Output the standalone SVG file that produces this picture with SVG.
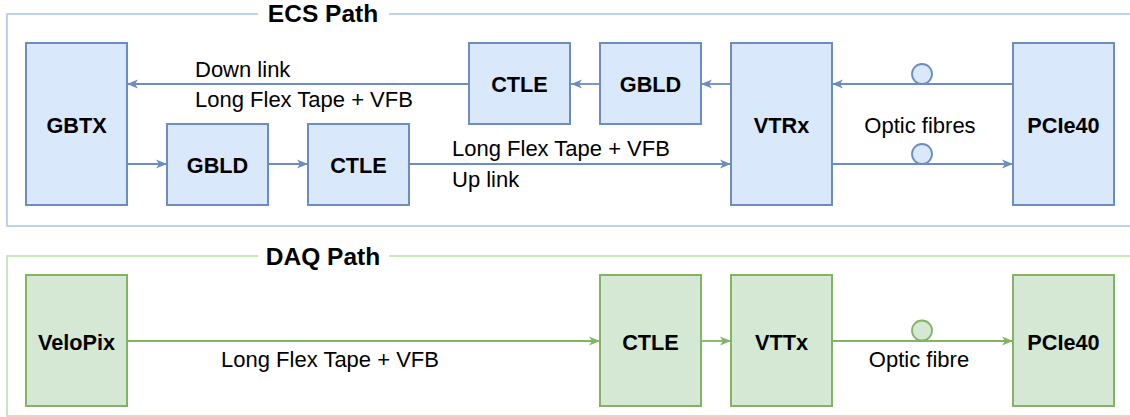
<svg xmlns="http://www.w3.org/2000/svg" width="1130" height="417" viewBox="0 0 1130 417">
<style>
  .t { font-family: "Liberation Sans", Arial, Helvetica, sans-serif; font-size: 22px; fill: #000; }
  .b { font-family: "Liberation Sans", Arial, Helvetica, sans-serif; font-size: 21.7px; font-weight: bold; fill: #000; text-anchor: middle; }
  .title { font-family: "Liberation Sans", Arial, Helvetica, sans-serif; font-size: 24.5px; font-weight: bold; fill: #000; text-anchor: middle; }
  .blue { fill: #dae8fc; stroke: #6c8ebf; stroke-width: 2; }
  .green { fill: #d5e8d4; stroke: #82b366; stroke-width: 2; }
  .cb { fill: none; stroke: #6c8ebf; stroke-width: 1.8; marker-end: url(#ab); }
  .cg { fill: none; stroke: #82b366; stroke-width: 1.8; marker-end: url(#ag); }
</style>
<defs>
  <marker id="ab" markerUnits="userSpaceOnUse" markerWidth="12" markerHeight="10" refX="11" refY="5" orient="auto">
    <path d="M0,0.5 L11,5 L0,9.5 L3,5 Z" fill="#6c8ebf"/>
  </marker>
  <marker id="ag" markerUnits="userSpaceOnUse" markerWidth="12" markerHeight="10" refX="11" refY="5" orient="auto">
    <path d="M0,0.5 L11,5 L0,9.5 L3,5 Z" fill="#82b366"/>
  </marker>
</defs>
<rect width="1130" height="417" fill="#ffffff"/>

<g id="ecs-frame">
  <rect x="7" y="14" width="1130" height="212" fill="none" stroke="#a9c4eb" stroke-width="1.5"/>
  <rect x="258" y="2" width="131" height="24" fill="#ffffff"/>
  <text class="title" x="323" y="22">ECS Path</text>
</g>
<g id="daq-frame">
  <rect x="7" y="256" width="1130" height="160" fill="none" stroke="#b9e0a5" stroke-width="1.5"/>
  <rect x="258" y="244" width="131" height="24" fill="#ffffff"/>
  <text class="title" x="323" y="265">DAQ Path</text>
</g>

<g id="connectors">
  <path class="cb" d="M469,84 H127"/>
  <path class="cb" d="M600,84 H571"/>
  <path class="cb" d="M731,84 H701"/>
  <path class="cb" d="M1013,84 H832"/>
  <path class="cb" d="M127,164 H167"/>
  <path class="cb" d="M268,164 H308"/>
  <path class="cb" d="M409,164 H731"/>
  <path class="cb" d="M832,164 H1013"/>
  <circle cx="922" cy="74" r="10" fill="#dae8fc" stroke="#6c8ebf" stroke-width="1.8"/>
  <circle cx="922" cy="154" r="10" fill="#dae8fc" stroke="#6c8ebf" stroke-width="1.8"/>
  <path class="cg" d="M127,341 H600"/>
  <path class="cg" d="M701,341 H731"/>
  <path class="cg" d="M832,341 H1013"/>
  <circle cx="922" cy="330.5" r="10" fill="#d5e8d4" stroke="#82b366" stroke-width="1.8"/>
  <text class="t" x="195" y="77">Down link</text>
  <text class="t" x="195" y="107">Long Flex Tape + VFB</text>
  <text class="t" x="452" y="156">Long Flex Tape + VFB</text>
  <text class="t" x="452" y="187">Up link</text>
  <text class="t" x="920" y="133" text-anchor="middle">Optic fibres</text>
  <text class="t" x="330" y="367" text-anchor="middle">Long Flex Tape + VFB</text>
  <text class="t" x="919" y="367" text-anchor="middle">Optic fibre</text>
</g>

<g id="gbtx"><rect class="blue" x="26" y="43" width="101" height="162"/><text class="b" x="76.5" y="133">GBTX</text></g>
<g id="gbld-up"><rect class="blue" x="167" y="124" width="101" height="81"/><text class="b" x="217.5" y="173">GBLD</text></g>
<g id="ctle-up"><rect class="blue" x="308" y="124" width="101" height="81"/><text class="b" x="358.5" y="173">CTLE</text></g>
<g id="ctle-down"><rect class="blue" x="469" y="43" width="101" height="81"/><text class="b" x="519.5" y="92">CTLE</text></g>
<g id="gbld-down"><rect class="blue" x="600" y="43" width="101" height="81"/><text class="b" x="650.5" y="92">GBLD</text></g>
<g id="vtrx"><rect class="blue" x="731" y="43" width="101" height="162"/><text class="b" x="781.5" y="133">VTRx</text></g>
<g id="pcie40-ecs"><rect class="blue" x="1013" y="43" width="101" height="162"/><text class="b" x="1063.5" y="133">PCIe40</text></g>

<g id="velopix"><rect class="green" x="26" y="275" width="101" height="131"/><text class="b" x="76.5" y="349.5">VeloPix</text></g>
<g id="ctle-daq"><rect class="green" x="600" y="275" width="101" height="131"/><text class="b" x="650.5" y="349.5">CTLE</text></g>
<g id="vttx"><rect class="green" x="731" y="275" width="101" height="131"/><text class="b" x="781.5" y="349.5">VTTx</text></g>
<g id="pcie40-daq"><rect class="green" x="1013" y="275" width="101" height="131"/><text class="b" x="1063.5" y="349.5">PCIe40</text></g>
</svg>
